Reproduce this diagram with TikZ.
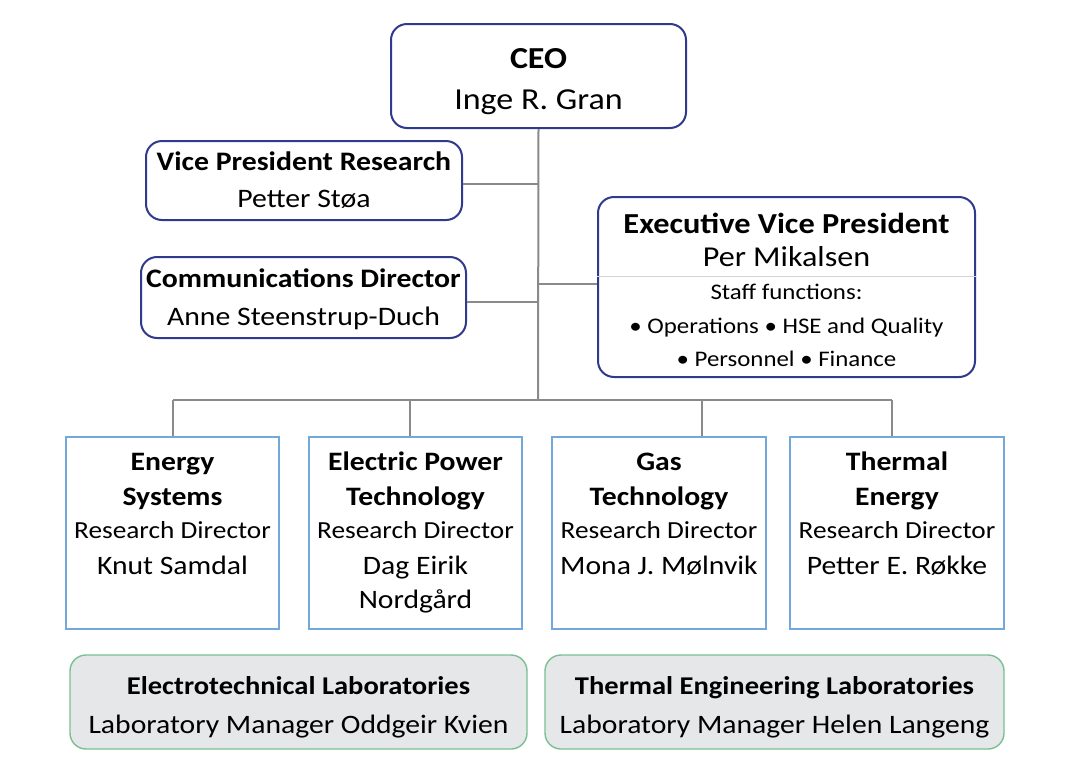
\documentclass[tikz,border=0pt]{standalone}
\usepackage{fontspec}
\setmainfont{Carlito}[FakeStretch=1.115]
\definecolor{navy}{HTML}{2F3A8C}
\definecolor{rbblue}{HTML}{72A9DA}
\definecolor{labgreen}{HTML}{78C093}
\definecolor{labfill}{HTML}{E6E7E9}
\definecolor{conn}{HTML}{8A8A8A}
\definecolor{sep}{HTML}{D4D4D4}
\begin{document}
\begin{tikzpicture}[x=1pt,y=-1pt,
  topbox/.style={draw=navy,line width=2pt,rounded corners=16pt,inner sep=0pt},
  resbox/.style={draw=rbblue,line width=1.4pt,inner sep=0pt},
  labbox/.style={draw=labgreen,fill=labfill,line width=1.4pt,rounded corners=16pt,inner sep=0pt},
  connector/.style={draw=conn,line width=2pt},
  txt/.style={anchor=base,inner sep=0pt},
]
\useasboundingbox (0,0) rectangle (1080,769);
\fill[white] (0,0) rectangle (1080,769);
% junction coordinates
\coordinate (trunkbot) at (538,400);
\coordinate (vpj) at (538,184);
\coordinate (cmj) at (538,302);
\coordinate (evj) at (538,284);
\coordinate (busL) at (173,400);
\coordinate (busR) at (892,400);
\coordinate (d2) at (410,400);
\coordinate (d3) at (702,400);
% boxes
\node[topbox,minimum width=295pt,minimum height=104pt] (ceo) at (538.5,76) {};
\node[topbox,minimum width=316pt,minimum height=79pt] (vpr) at (304,180.5) {};
\node[topbox,minimum width=325pt,minimum height=81pt] (com) at (303.5,297.5) {};
\node[topbox,minimum width=377pt,minimum height=180pt] (evp) at (786.5,287) {};
\node[resbox,minimum width=213pt,minimum height=192pt] (r1) at (172.5,533) {};
\node[resbox,minimum width=213pt,minimum height=192pt] (r2) at (415.5,533) {};
\node[resbox,minimum width=214pt,minimum height=192pt] (r3) at (659,533) {};
\node[resbox,minimum width=214pt,minimum height=192pt] (r4) at (897,533) {};
\node[labbox,minimum width=457pt,minimum height=94pt] (l1) at (298.5,702) {};
\node[labbox,minimum width=459pt,minimum height=94pt] (l2) at (774.5,702) {};
% connectors
\draw[connector] (ceo.south) -- (trunkbot);
\draw[connector] (vpr.east |- vpj) -- (vpj);
\draw[connector] (com.east |- cmj) -- (cmj);
\draw[connector] (evj) -- (evp.west |- evj);
\draw[connector] (busL) -- (busR);
\draw[connector] (busL) -- (busL |- r1.north);
\draw[connector] (d2) -- (d2 |- r2.north);
\draw[connector] (d3) -- (d3 |- r3.north);
\draw[connector] (busR) -- (busR |- r4.north);
\draw[sep,line width=1pt] (evp.west |- 0,276) -- (evp.east |- 0,276);
% texts
\node[txt,font=\fontsize{30.5}{36}\selectfont\bfseries] (t1) at (538.5,68) {CEO};
\node[txt,font=\fontsize{30.5}{36}\selectfont] (t2) at (538.5,109) {Inge R. Gran};
\node[txt,font=\fontsize{26.7}{31}\selectfont\bfseries] (t3) at (304,170) {Vice President Research};
\node[txt,font=\fontsize{26.7}{31}\selectfont] (t4) at (304,207) {Petter Støa};
\node[txt,font=\fontsize{26.7}{31}\selectfont\bfseries] (t5) at (303.5,287) {Communications Director};
\node[txt,font=\fontsize{26.7}{31}\selectfont] (t6) at (303.5,325) {Anne Steenstrup-Duch};
\node[txt,font=\fontsize{29}{33}\selectfont\bfseries] (t7) at (786.5,233) {Executive Vice President};
\node[txt,font=\fontsize{28.8}{33}\selectfont] (t8) at (786.5,266) {Per Mikalsen};
\node[txt,font=\fontsize{22.3}{26}\selectfont] (t9) at (786.5,299) {Staff functions:};
\node[txt,font=\fontsize{22.3}{26}\selectfont] (t10) at (786.5,333) {• Operations • HSE and Quality};
\node[txt,font=\fontsize{22.3}{26}\selectfont] (t11) at (786.5,366) {• Personnel • Finance};
% research
\foreach \n/\x/\a/\b/\c/\d in {1/172.5/Energy/Systems/Knut Samdal/, 2/415.5/Electric Power/Technology/Dag Eirik/Nordgård, 3/659/Gas/Technology/Mona J. Mølnvik/, 4/897/Thermal/Energy/Petter E. Røkke/}{
  \node[txt,font=\fontsize{26.6}{31}\selectfont\bfseries] (ra\n) at (\x,470) {\a};
  \node[txt,font=\fontsize{26.6}{31}\selectfont\bfseries] (rb\n) at (\x,505) {\b};
  \node[txt,font=\fontsize{24.5}{30}\selectfont] (rc\n) at (\x,538) {Research Director};
  \node[txt,font=\fontsize{26.6}{31}\selectfont] (rd\n) at (\x,574) {\c};
  \node[txt,font=\fontsize{26.6}{31}\selectfont] (re\n) at (\x,608) {\d};
}
\node[txt,font=\fontsize{25.6}{30}\selectfont\bfseries] (la1) at (298.5,694) {Electrotechnical Laboratories};
\node[txt,font=\fontsize{26.6}{30}\selectfont] (lb1) at (298.5,733) {Laboratory Manager Oddgeir Kvien};
\node[txt,font=\fontsize{25.6}{30}\selectfont\bfseries] (la2) at (774.5,694) {Thermal Engineering Laboratories};
\node[txt,font=\fontsize{26.6}{30}\selectfont] (lb2) at (774.5,733) {Laboratory Manager Helen Langeng};
\end{tikzpicture}
\end{document}
